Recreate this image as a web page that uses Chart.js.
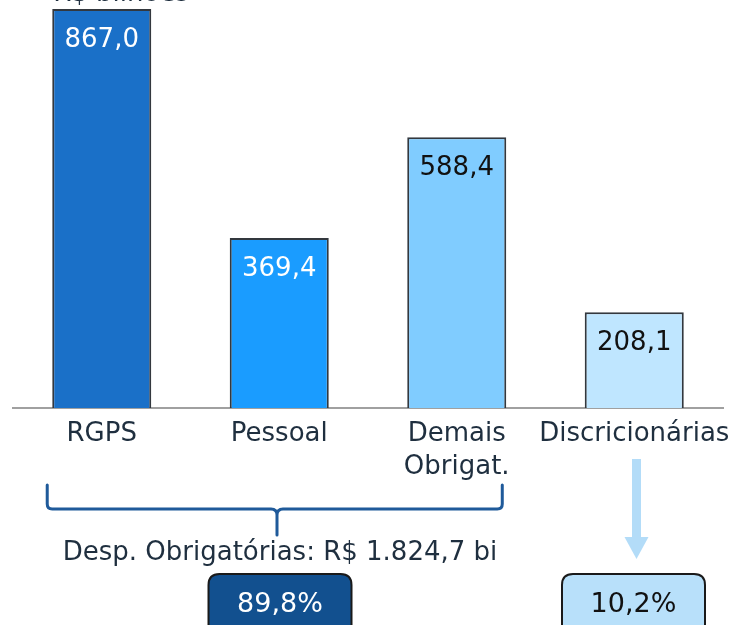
<!DOCTYPE html>
<html>
<head>
<meta charset="utf-8">
<script src="https://cdn.jsdelivr.net/npm/chart.js@4"></script>
<style>
html,body{margin:0;padding:0;background:#fff;}
#wrap{width:732px;height:625px;position:relative;}
</style>
</head>
<body>
<div id="wrap"><canvas id="c" width="732" height="625"></canvas></div>
<script>
const categories = ["RGPS", "Pessoal", ["Demais", "Obrigat."], "Discricionárias"];
const values = [867.0, 369.4, 588.4, 208.1];
const valueLabels = ["867,0", "369,4", "588,4", "208,1"];
const barColors = ["#1a70c8", "#1a9cff", "#80ccff", "#bfe6ff"];
const labelColors = ["#ffffff", "#ffffff", "#111111", "#111111"];
const unitTitle = "R$ bilhões";
const groupText = "Desp. Obrigatórias: R$ 1.824,7 bi";
const shareLabels = ["89,8%", "10,2%"];

const FONT = "'DejaVu Sans', Verdana, sans-serif";

function roundRect(ctx, x, y, w, h, r) {
  ctx.beginPath();
  ctx.moveTo(x + r, y);
  ctx.lineTo(x + w - r, y);
  ctx.quadraticCurveTo(x + w, y, x + w, y + r);
  ctx.lineTo(x + w, y + h - r);
  ctx.quadraticCurveTo(x + w, y + h, x + w - r, y + h);
  ctx.lineTo(x + r, y + h);
  ctx.quadraticCurveTo(x, y + h, x, y + h - r);
  ctx.lineTo(x, y + r);
  ctx.quadraticCurveTo(x, y, x + r, y);
  ctx.closePath();
}

const annot = {
  id: 'annot',
  afterDatasetsDraw(chart) {
    const ctx = chart.ctx;
    const meta = chart.getDatasetMeta(0);
    const bars = meta.data;
    ctx.save();
    // value labels
    ctx.font = "26px " + FONT;
    ctx.textAlign = 'center';
    ctx.textBaseline = 'middle';
    bars.forEach((b, i) => {
      ctx.fillStyle = labelColors[i];
      ctx.fillText(valueLabels[i], b.x, b.y + 31);
    });
    // unit title (cut at top)
    ctx.fillStyle = '#1f2f3f';
    ctx.textAlign = 'left';
    ctx.textBaseline = 'alphabetic';
    ctx.fillText(unitTitle, bars[0].x - bars[0].width / 2 + 1, 1);

    // bracket
    const L = bars[0].x - bars[0].width / 2 - 5;
    const R = bars[2].x + bars[2].width / 2 - 4;
    const M = 277;
    const yTop = 485, yH = 509, yTip = 535, r = 5;
    ctx.strokeStyle = '#1f5a9a';
    ctx.lineWidth = 3;
    ctx.lineCap = 'round';
    ctx.beginPath();
    ctx.moveTo(L, yTop);
    ctx.lineTo(L, yH - r);
    ctx.quadraticCurveTo(L, yH, L + r, yH);
    ctx.lineTo(M - 6, yH);
    ctx.quadraticCurveTo(M, yH, M, yH + 6);
    ctx.lineTo(M, yTip);
    ctx.moveTo(M, yH + 6);
    ctx.quadraticCurveTo(M, yH, M + 6, yH);
    ctx.lineTo(R - r, yH);
    ctx.quadraticCurveTo(R, yH, R, yH - r);
    ctx.lineTo(R, yTop);
    ctx.stroke();

    // group text
    ctx.fillStyle = '#1f2f3f';
    ctx.font = "26px " + FONT;
    ctx.textAlign = 'center';
    ctx.textBaseline = 'middle';
    ctx.fillText(groupText, 280, 553);

    // arrow
    const ax = 636.5;
    ctx.fillStyle = '#b3dcf8';
    ctx.fillRect(ax - 4.5, 459, 9, 80);
    ctx.beginPath();
    ctx.moveTo(ax - 12, 537);
    ctx.lineTo(ax + 12, 537);
    ctx.lineTo(ax, 559);
    ctx.closePath();
    ctx.fill();

    // boxes
    const boxes = [
      {cx: 280, fill: '#12508f', text: '#ffffff', label: shareLabels[0]},
      {cx: 633.5, fill: '#b8e0fa', text: '#111111', label: shareLabels[1]}
    ];
    boxes.forEach(bx => {
      roundRect(ctx, bx.cx - 71.5, 574, 143, 70, 11);
      ctx.fillStyle = bx.fill;
      ctx.fill();
      ctx.lineWidth = 2;
      ctx.strokeStyle = '#1a1a1a';
      ctx.stroke();
      ctx.fillStyle = bx.text;
      ctx.font = "27px " + FONT;
      ctx.fillText(bx.label, bx.cx, 605);
    });
    ctx.restore();
  }
};

new Chart(document.getElementById('c'), {
  type: 'bar',
  data: {
    labels: categories,
    datasets: [{
      data: values,
      backgroundColor: barColors,
      borderColor: '#33383e',
      borderWidth: 2,
      borderSkipped: 'bottom',
      barPercentage: 0.558,
      categoryPercentage: 1.0
    }]
  },
  options: {
    responsive: false,
    animation: false,
    devicePixelRatio: 1,
    layout: {padding: {left: 13, right: 9, top: 9, bottom: 0}},
    plugins: {legend: {display: false}, tooltip: {enabled: false}, title: {display: false}},
    scales: {
      x: {
        grid: {display: false, drawTicks: false},
        border: {display: true, color: '#a0a0a0', width: 2},
        ticks: {
          color: '#1f2f3f',
          font: {family: FONT, size: 26, lineHeight: 1.25},
          padding: 10,
          maxRotation: 0,
          autoSkip: false
        },
        afterFit(scale) {
          scale.height = 217;
          scale.paddingLeft = 0;
          scale.paddingRight = 0;
        }
      },
      y: {display: false, min: 0, max: 867}
    }
  },
  plugins: [annot]
});
</script>
</body>
</html>
